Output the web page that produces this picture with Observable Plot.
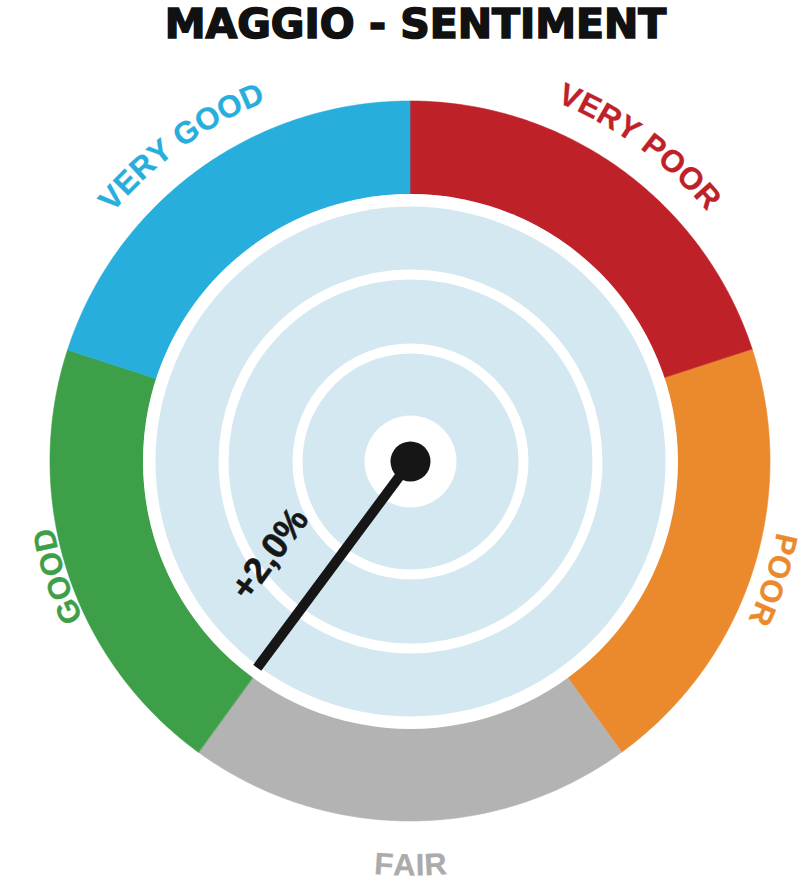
<!DOCTYPE html>
<html><head><meta charset="utf-8">
<script src="https://cdn.jsdelivr.net/npm/d3@7"></script>
<script src="https://cdn.jsdelivr.net/npm/@observablehq/plot@0.6"></script>
<style>
body{margin:0;background:#fff;width:809px;height:881px;overflow:hidden}
#title{height:60px;line-height:60px;font:bold 41px "DejaVu Sans";text-align:center;padding-left:22px;color:#111;white-space:nowrap;-webkit-text-stroke:1.6px #111}
#chart svg{display:block}
</style></head><body>
<div id="title"></div><div id="chart"></div>
<script>
// ---- data ----
const title = "MAGGIO - SENTIMENT";
const categories = ["VERY POOR", "POOR", "FAIR", "GOOD", "VERY GOOD"];
const segmentStart = [0, 72, 144, 216, 288];     // degrees clockwise from 12 o'clock
const segmentEnd = [72, 144, 216, 288, 360];
const segmentColors = ["#bf2129", "#eb8a2d", "#b3b3b3", "#3d9f47", "#27aedd"];
const labelColors = ["#bf2129", "#eb8a2d", "#ababab", "#3d9f47", "#27aedd"];
const needleAngle = 216.6;
const needleLabel = "+2,0%";

document.getElementById("title").textContent = title;

// ---- geometry ----
const R_OUT = 360, R_IN = 267, R_DISK = 255;
const labelRadius = [388, 373, 414, 363, 388];
const rad = d => d * Math.PI / 180;
const px = (r, a) => r * Math.sin(rad(a));
const py = (r, a) => r * Math.cos(rad(a));

const arcPts = [];
categories.forEach((c, i) => {
  for (let a = segmentStart[i]; a <= segmentEnd[i] + 1e-9; a += 0.5) {
    arcPts.push({cat: c, color: segmentColors[i], x1: px(R_OUT, a), y1: py(R_OUT, a), x2: px(R_IN, a), y2: py(R_IN, a)});
  }
});

// curved labels, character by character
const FONT = '"Liberation Sans", Arial, Helvetica, sans-serif';
const ctx = document.createElement("canvas").getContext("2d");
const chars = [];
categories.forEach((c, i) => {
  const center = (segmentStart[i] + segmentEnd[i]) / 2;
  const inward = center > 135 && center < 225; // bottom label reads upright
  const size = 31;
  const r = labelRadius[i];
  ctx.font = `bold ${size}px ${FONT}`;
  const spacing = 0.5;
  const ws = [...c].map(ch => ctx.measureText(ch).width + spacing);
  const total = d3.sum(ws);
  let cum = 0;
  [...c].forEach((ch, k) => {
    const off = cum + ws[k] / 2 - total / 2;
    cum += ws[k];
    const a = inward ? center - (off / r) * 180 / Math.PI : center + (off / r) * 180 / Math.PI;
    chars.push({ch, size, color: labelColors[i], x: px(r, a), y: py(r, a), rot: inward ? a - 180 : a});
  });
});

const L = 257;
const needle = [{a: needleAngle, label: needleLabel}];
const ALONG = 158, PERP = 58;
const rings = [187, 113];

const plot = Plot.plot({
  width: 809, height: 821, margin: 0,
  x: {domain: [-410, 399], axis: null},
  y: {domain: [-420, 401], axis: null},
  r: {type: "identity"},
  color: {type: "identity"},
  style: {background: "white", overflow: "visible"},
  marks: [
    Plot.area(arcPts, {x1: "x1", y1: "y1", x2: "x2", y2: "y2", z: "cat", fill: "color", stroke: "color", strokeWidth: 0.6}),
    Plot.dot([{x: 0, y: 0}], {x: "x", y: "y", r: R_IN + 0.5, fill: "white"}),
    Plot.dot([{x: 0, y: 0}], {x: "x", y: "y", r: R_DISK, fill: "#d3e8f1"}),
    Plot.dot(rings, {x: () => 0, y: () => 0, r: d => d, fill: "none", stroke: "white", strokeWidth: 10}),
    Plot.dot([{x: 0, y: 0}], {x: "x", y: "y", r: 46, fill: "white"}),
    Plot.link(needle, {x1: () => 0, y1: () => 0, x2: d => px(L, d.a), y2: d => py(L, d.a), stroke: "#161616", strokeWidth: 10}),
    Plot.dot([{x: 0, y: 0}], {x: "x", y: "y", r: 20, fill: "#161616"}),
    Plot.text(needle, {
      x: d => px(ALONG, d.a) + PERP * Math.cos(rad(d.a)),
      y: d => py(ALONG, d.a) - PERP * Math.sin(rad(d.a)),
      text: "label", rotate: d => d.a - 270,
      fill: "#161616", stroke: "#161616", strokeWidth: 0.6, fontSize: 36, fontWeight: "bold", fontFamily: FONT,
      textAnchor: "middle", lineAnchor: "middle"
    }),
    Plot.text(chars, {
      x: "x", y: "y", text: "ch", rotate: "rot", fill: "color", stroke: "color", strokeWidth: 0.3,
      fontSize: d => d.size, fontWeight: "bold", fontFamily: FONT,
      textAnchor: "middle", lineAnchor: "bottom"
    })
  ]
});
document.getElementById("chart").appendChild(plot);
</script>
</body></html>
